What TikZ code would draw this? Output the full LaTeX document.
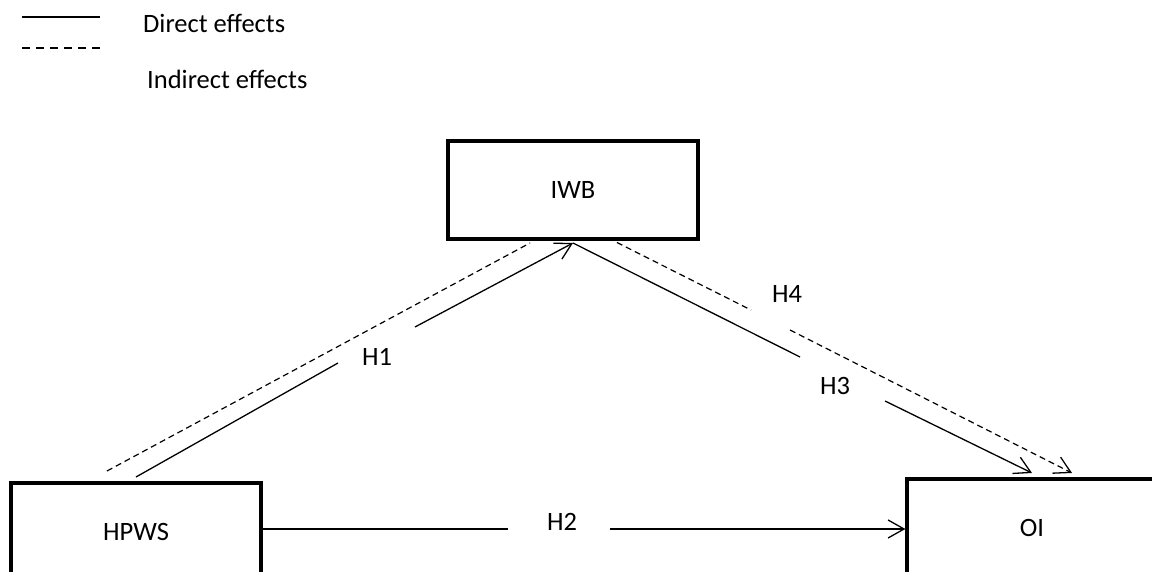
\documentclass[tikz,border=0pt]{standalone}
\usepackage{fontspec}
\setmainfont{Carlito}
\usetikzlibrary{arrows.meta}
\begin{document}
\begin{tikzpicture}[x=1pt,y=-1pt,
  box/.style={draw,line width=3.2pt,rectangle,minimum width=250pt,minimum height=98pt,inner sep=0pt,font=\fontsize{26.5}{30}\selectfont},
  lbl/.style={inner sep=0pt,font=\fontsize{26.5}{30}\selectfont},
  conn/.style={line width=1.3pt},
  dconn/.style={line width=1.2pt,dash pattern=on 6pt off 4pt},
  legdash/.style={line width=1.3pt,dash pattern=on 8pt off 6pt},
  tip/.style={-{Straight Barb[length=16pt,width=18pt,line width=1.3pt]}}]
\useasboundingbox (0,0) rectangle (1152,572);
\clip (0,0) rectangle (1152,572);
% legend
\coordinate (ls1) at (22,17); \coordinate (ls2) at (100,17);
\coordinate (ld1) at (22,48); \coordinate (ld2) at (100,48);
\draw[conn] (ls1) -- (ls2);
\draw[legdash] (ld1) -- (ld2);
\node[lbl,anchor=west] (tdirect) at (143,23) {Direct effects};
\node[lbl,anchor=west] (tindirect) at (147,79) {Indirect effects};
% boxes
\node[box] (iwb) at (573,190) {IWB};
\node[box] (hpws) at (136,532) {HPWS};
\node[box] (oi) at (1032,528) {OI};
% labels
\node[lbl] (h1) at (377,357) {H1};
\node[lbl] (h2) at (562,522) {H2};
\node[lbl] (h3) at (835,386) {H3};
\node[lbl] (h4) at (787,294) {H4};
% H1 solid
\coordinate (a1) at (136,477); \coordinate (a1g) at (338,363);
\coordinate (a1h) at (415,327); \coordinate (a1t) at (573,243);
\draw[conn] (a1) -- (a1g);
\draw[conn,tip] (a1h) -- (a1t);
% H1 dashed
\coordinate (b1) at (107,471); \coordinate (b1t) at (530,243);
\draw[dconn] (b1) -- (b1t);
% H3 solid
\coordinate (c1g) at (800,357); \coordinate (c1h) at (885,401); \coordinate (c1t) at (1032,473);
\draw[conn] (a1t) -- (c1g);
\draw[conn,tip] (c1h) -- (c1t);
% H4 dashed
\coordinate (d1) at (608,238); \coordinate (d1g) at (751,310);
\coordinate (d1h) at (790,330); \coordinate (d1t) at (1072,473);
\draw[dconn] (d1) -- (d1g);
\draw[dconn,tip] (d1h) -- (d1t);
% H2
\coordinate (e1g) at (508,529); \coordinate (e1h) at (610,529);
\draw[conn] (hpws.east |- e1g) -- (e1g);
\draw[conn,tip] (e1h) -- (oi.west |- e1h);
\end{tikzpicture}
\end{document}
